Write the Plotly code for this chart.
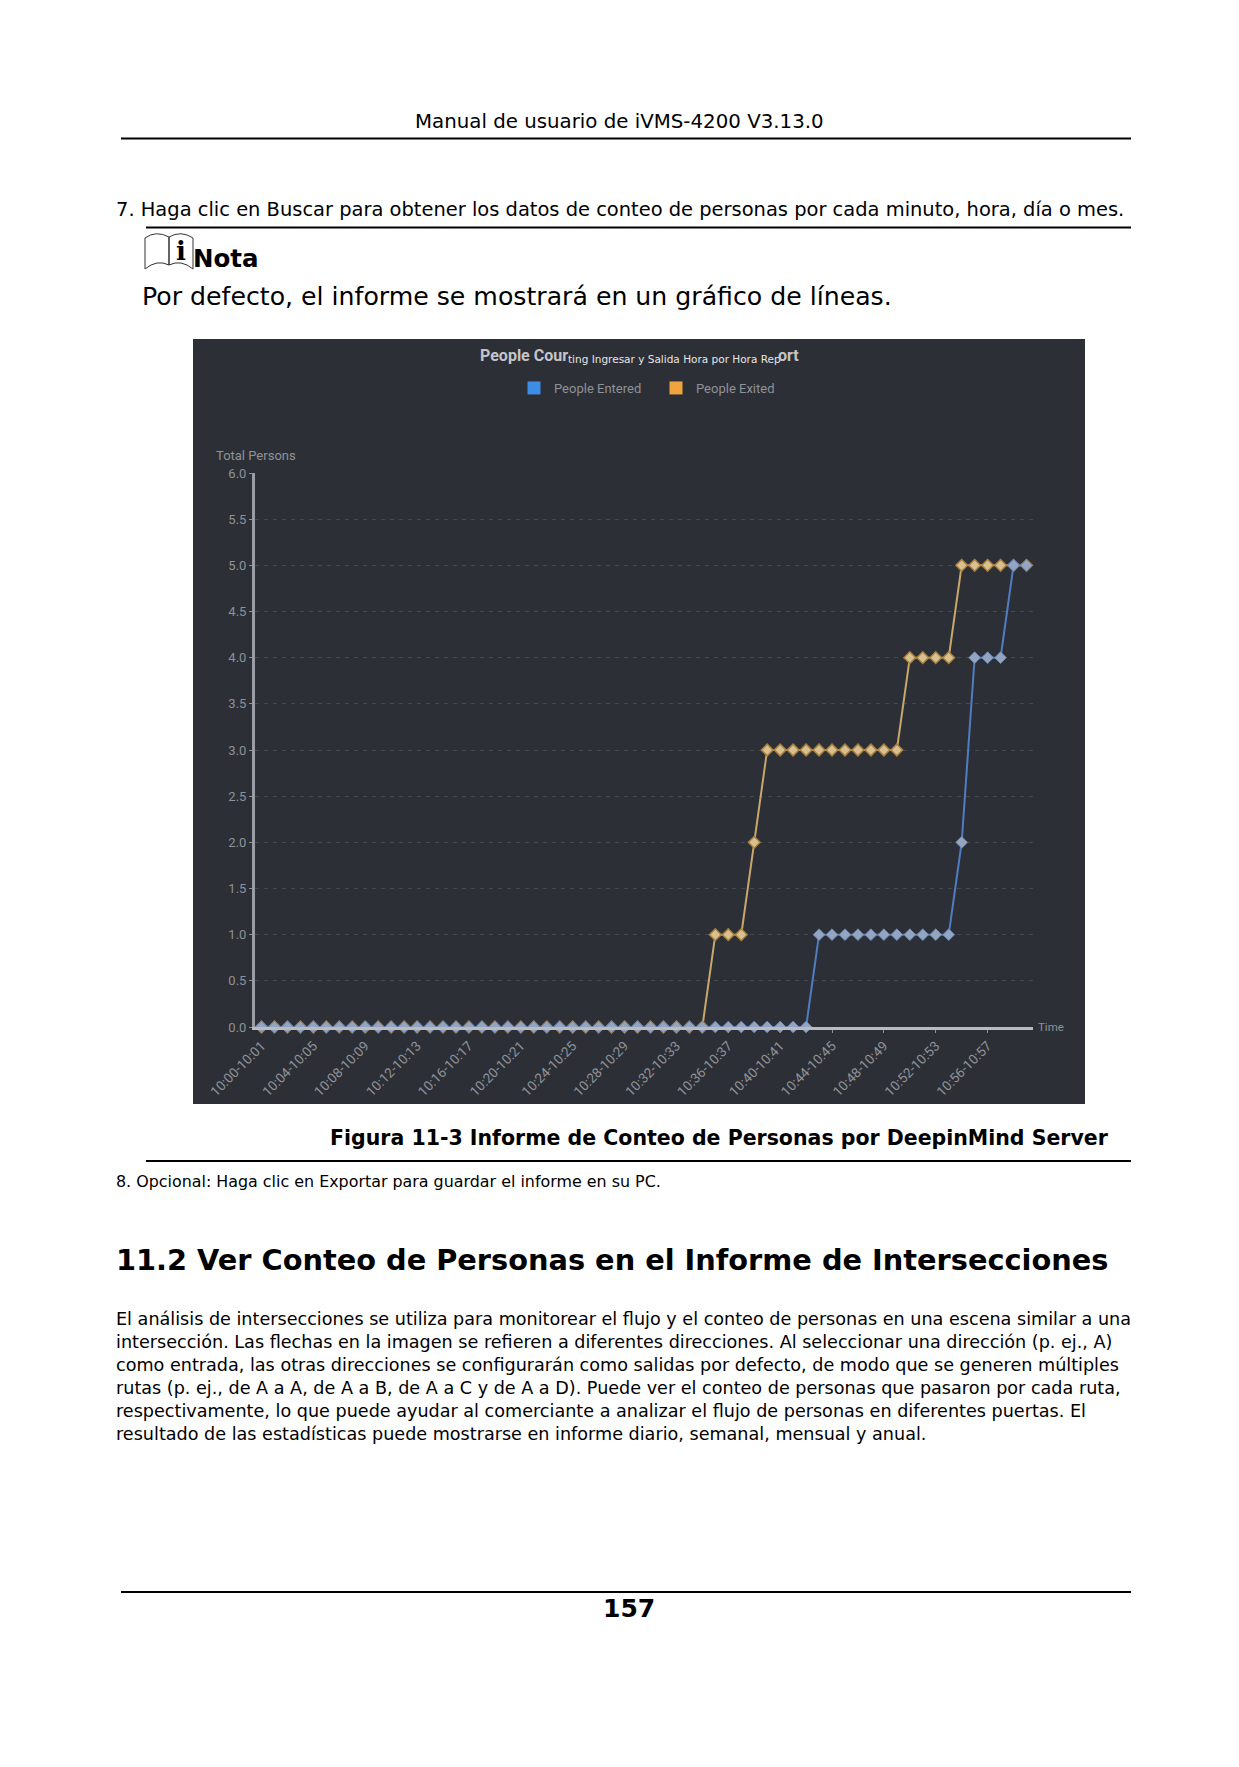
import plotly.graph_objects as go

W, H = 1239, 1767

# one label per minute, 10:00-10:01 ... 10:59-11:00
categories = ["10:%02d-10:%02d" % (m, m + 1) for m in range(59)] + ["10:59-11:00"]
tick_labels = ["10:00-10:01", "10:04-10:05", "10:08-10:09", "10:12-10:13", "10:16-10:17",
               "10:20-10:21", "10:24-10:25", "10:28-10:29", "10:32-10:33", "10:36-10:37",
               "10:40-10:41", "10:44-10:45", "10:48-10:49", "10:52-10:53", "10:56-10:57"]
people_entered = [0] * 43 + [1] * 11 + [2] + [4, 4, 4] + [5, 5]
people_exited = [0] * 35 + [1, 1, 1] + [2] + [3] * 11 + [4, 4, 4, 4] + [5] * 6
y_ticks = [0, 0.5, 1, 1.5, 2, 2.5, 3, 3.5, 4, 4.5, 5, 5.5, 6]

paragraph = [
    "El análisis de intersecciones se utiliza para monitorear el flujo y el conteo de personas en una escena similar a una",
    "intersección. Las flechas en la imagen se refieren a diferentes direcciones. Al seleccionar una dirección (p. ej., A)",
    "como entrada, las otras direcciones se configurarán como salidas por defecto, de modo que se generen múltiples",
    "rutas (p. ej., de A a A, de A a B, de A a C y de A a D). Puede ver el conteo de personas que pasaron por cada ruta,",
    "respectivamente, lo que puede ayudar al comerciante a analizar el flujo de personas en diferentes puertas. El",
    "resultado de las estadísticas puede mostrarse en informe diario, semanal, mensual y anual.",
]

PAGE_FONT = "DejaVu Sans"
CHART_FONT = "Roboto"
DARK = "#2c2f36"
GREY = "#8f9297"


def px(x):
    return x / W


def py(y):
    return 1 - y / H


def label(text, x, y, size, bold=False, color="#000000", family=PAGE_FONT, anchor="left"):
    if bold:
        text = "<b>" + text + "</b>"
    return dict(text=text, x=px(x), y=py(y), xref="paper", yref="paper", xanchor=anchor,
                yanchor="middle", showarrow=False, font=dict(family=family, size=size, color=color))


def rule(x0, x1, y, width=2):
    return dict(type="line", xref="paper", yref="paper", x0=px(x0), x1=px(x1), y0=py(y), y1=py(y),
                line=dict(color="#000000", width=width))


fig = go.Figure()
fig.add_trace(go.Scatter(x=categories, y=people_exited, mode="lines+markers", showlegend=False,
                         line=dict(color="#c9a66b", width=2),
                         marker=dict(symbol="diamond", size=9, color="#d8c08f",
                                     line=dict(color="#a9803f", width=1.5)),
                         cliponaxis=False))
fig.add_trace(go.Scatter(x=categories, y=people_entered, mode="lines+markers", showlegend=False,
                         line=dict(color="#4f7dbf", width=2),
                         marker=dict(symbol="diamond", size=9, color="#94a5c2",
                                     line=dict(color="#6a87b5", width=1)),
                         cliponaxis=False))
# legend only entries, square swatches
fig.add_trace(go.Scatter(x=[None], y=[None], mode="markers", name="People Entered",
                         marker=dict(symbol="square", size=13, color="#3d8ce6")))
fig.add_trace(go.Scatter(x=[None], y=[None], mode="markers", name="People Exited",
                         marker=dict(symbol="square", size=13, color="#f0a43f")))

annotations = [
    label("Manual de usuario de iVMS-4200 V3.13.0", 619, 122, 19.8, anchor="center"),
    label("7. Haga clic en Buscar para obtener los datos de conteo de personas por cada minuto, hora, día o mes.",
          114, 209, 19.47),
    label("i", 174, 251, 26, bold=True, family="DejaVu Serif"),
    label("Nota", 191, 259, 24.5, bold=True),
    label("Por defecto, el informe se mostrará en un gráfico de líneas.", 140, 296, 25.2),
    label("Figura 11-3 Informe de Conteo de Personas por DeepinMind Server", 328, 1138, 20.5, bold=True),
    label("8. Opcional: Haga clic en Exportar para guardar el informe en su PC.", 114, 1181, 15.9),
    label("11.2 Ver Conteo de Personas en el Informe de Intersecciones", 114, 1260, 28.8, bold=True),
    label("157", 629, 1608, 25, bold=True, anchor="center"),
    # chart texts
    label("People Cour", 478, 355, 16, bold=True, color="#c4c5c8", family=CHART_FONT),
    label("ting Ingresar y Salida Hora por Hora Rep", 566, 359, 10.5, color="#e6e6e6"),
    label("ort", 776, 355, 16, bold=True, color="#c4c5c8", family=CHART_FONT),
    label("Total Persons", 214, 455, 13, color=GREY, family=CHART_FONT),
    label("Time", 1036, 1027, 11.5, color=GREY, family=CHART_FONT),
]
for i, line in enumerate(paragraph):
    annotations.append(label(line, 114, 1319 + i * 23, 17.6))

book = ("M %f %f Q %f %f %f %f L %f %f Q %f %f %f %f Z "
        "M %f %f Q %f %f %f %f L %f %f Q %f %f %f %f Z") % (
    px(145), py(238), px(156), py(230), px(169), py(237),
    px(169), py(265), px(157), py(259), px(145), py(269),
    px(169), py(237), px(181), py(230), px(193), py(238),
    px(193), py(269), px(181), py(259), px(169), py(265))

shapes = [
    dict(type="rect", xref="paper", yref="paper", x0=px(193), x1=px(1085), y0=py(1104), y1=py(339),
         fillcolor=DARK, line=dict(width=0), layer="below"),
    rule(121, 1131, 138.5),
    rule(146, 1131, 227.5),
    rule(146, 1131, 1161),
    rule(121, 1131, 1592),
    dict(type="path", xref="paper", yref="paper", path=book, line=dict(color="#333333", width=1)),
]

fig.update_layout(
    width=W, height=H, margin=dict(l=0, r=0, t=0, b=0, autoexpand=False),
    paper_bgcolor="#ffffff", plot_bgcolor=DARK,
    font=dict(family=CHART_FONT, color=GREY, size=12),
    annotations=annotations, shapes=shapes,
    legend=dict(orientation="h", x=px(514), y=py(388), xanchor="left", yanchor="middle",
                bgcolor="rgba(0,0,0,0)", font=dict(size=13, color=GREY), itemclick=False,
                entrywidth=97, entrywidthmode="pixels"),
    xaxis=dict(domain=[px(255), px(1033)], type="category", categoryorder="array",
               categoryarray=categories, range=[-0.5, 59.5], tickmode="array",
               tickvals=tick_labels, ticktext=tick_labels, tickangle=-45, showgrid=False,
               showline=True, linecolor="#b9bbc0", linewidth=2.5, ticks="outside", ticklen=3,
               tickcolor=GREY, tickfont=dict(size=13.5, color=GREY), zeroline=False, automargin=False),
    yaxis=dict(domain=[py(1027), py(473)], range=[0, 6], tickvals=y_ticks, tickformat=".1f",
               showgrid=True, gridcolor="rgba(255,255,255,0.13)", griddash="4px,5px", gridwidth=1,
               showline=True, linecolor="#9a9da3", linewidth=3, ticks="outside", ticklen=3,
               tickcolor=GREY, tickfont=dict(size=13, color=GREY), zeroline=False, automargin=False),
)

fig.write_html("out.html", config=dict(displayModeBar=False),
               post_script="document.body.style.margin='0';")
